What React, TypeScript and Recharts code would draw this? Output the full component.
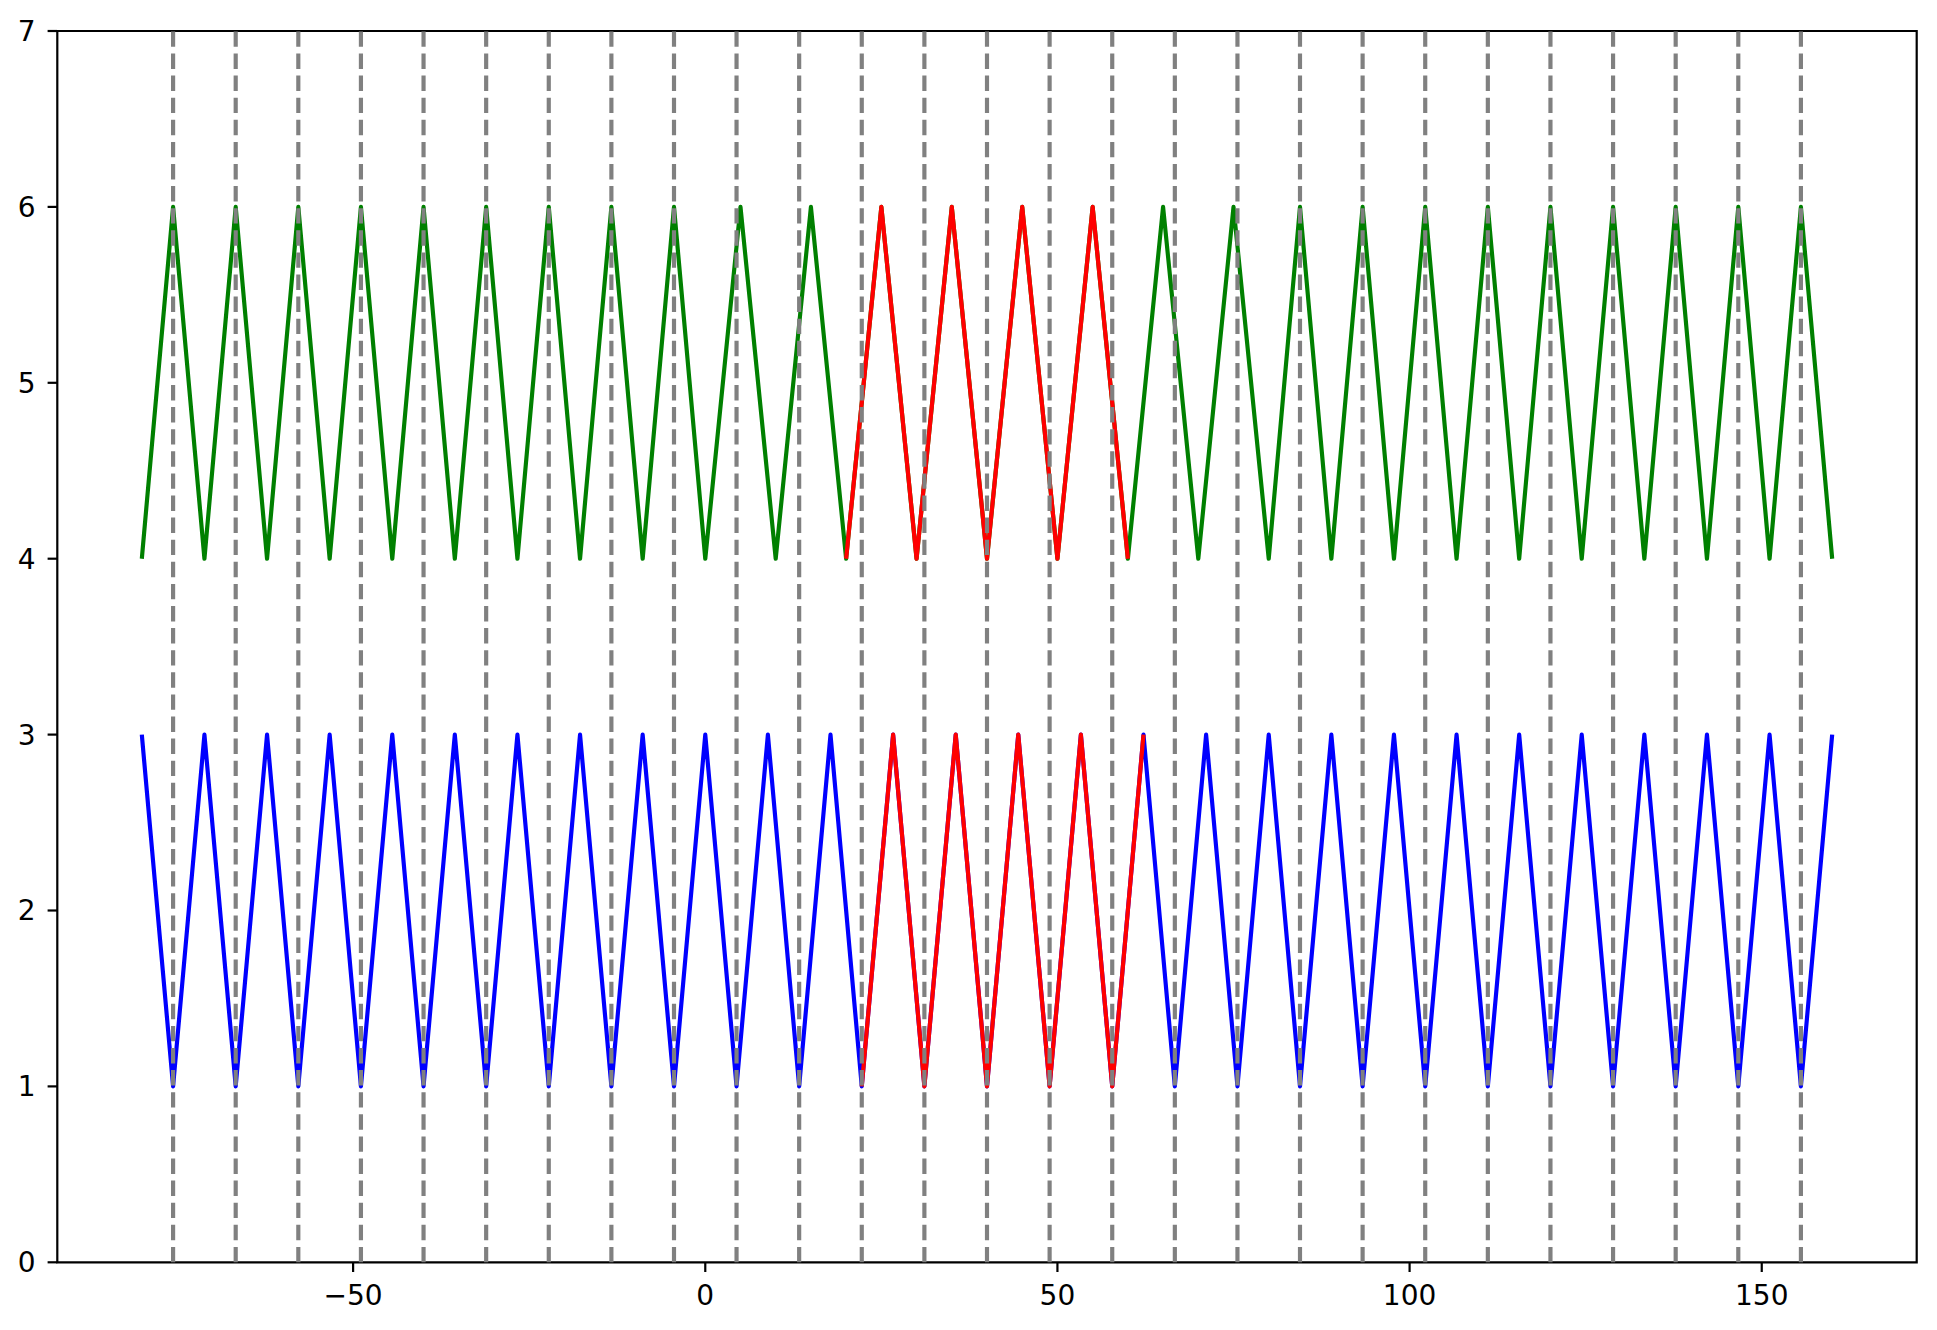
import React from "react";
import {
  Line,
  LineChart,
  ReferenceArea,
  ReferenceLine,
  XAxis,
  YAxis,
} from "recharts";

// blue zigzag (lower band)
const blueX = [
  -80, -75.56, -71.11, -66.67, -62.22, -57.78, -53.33, -48.89, -44.44, -40,
  -35.56, -31.11, -26.67, -22.22, -17.78, -13.33, -8.89, -4.44, 0, 4.44, 8.89,
  13.33, 17.78, 22.22, 26.67, 31.11, 35.56, 40, 44.44, 48.89, 53.33, 57.78,
  62.22, 66.67, 71.11, 75.56, 80, 84.44, 88.89, 93.33, 97.78, 102.22, 106.67,
  111.11, 115.56, 120, 124.44, 128.89, 133.33, 137.78, 142.22, 146.67, 151.11,
  155.56, 160,
];
const blueY = [
  3, 1, 3, 1, 3, 1, 3, 1, 3, 1, 3, 1, 3, 1, 3, 1, 3, 1, 3, 1, 3, 1, 3, 1, 3, 1,
  3, 1, 3, 1, 3, 1, 3, 1, 3, 1, 3, 1, 3, 1, 3, 1, 3, 1, 3, 1, 3, 1, 3, 1, 3, 1,
  3, 1, 3,
];

// green zigzag (upper band), tighter spacing between 0 and 80
const greenX = [
  -80, -75.56, -71.11, -66.67, -62.22, -57.78, -53.33, -48.89, -44.44, -40,
  -35.56, -31.11, -26.67, -22.22, -17.78, -13.33, -8.89, -4.44, 0, 5, 10, 15,
  20, 25, 30, 35, 40, 45, 50, 55, 60, 65, 70, 75, 80, 84.44, 88.89, 93.33,
  97.78, 102.22, 106.67, 111.11, 115.56, 120, 124.44, 128.89, 133.33, 137.78,
  142.22, 146.67, 151.11, 155.56, 160,
];
const greenY = [
  4, 6, 4, 6, 4, 6, 4, 6, 4, 6, 4, 6, 4, 6, 4, 6, 4, 6, 4, 6, 4, 6, 4, 6, 4, 6,
  4, 6, 4, 6, 4, 6, 4, 6, 4, 6, 4, 6, 4, 6, 4, 6, 4, 6, 4, 6, 4, 6, 4, 6, 4, 6,
  4,
];

// red highlighted parts
const redUpperX = [20, 25, 30, 35, 40, 45, 50, 55, 60];
const redUpperY = [4, 6, 4, 6, 4, 6, 4, 6, 4];
const redLowerX = [22.22, 26.67, 31.11, 35.56, 40, 44.44, 48.89, 53.33, 57.78, 62.22];
const redLowerY = [1, 3, 1, 3, 1, 3, 1, 3, 1, 3];

// dashed markers
const markerX = [
  -75.56, -66.67, -57.78, -48.89, -40, -31.11, -22.22, -13.33, -4.44, 4.44,
  13.33, 22.22, 31.11, 40, 48.89, 57.78, 66.67, 75.56, 84.44, 93.33, 102.22,
  111.11, 120, 128.89, 137.78, 146.67, 155.56,
];

const xTicks = [-50, 0, 50, 100, 150];
const yTicks = [0, 1, 2, 3, 4, 5, 6, 7];

const zip = (xs: number[], ys: number[]) => xs.map((x, i) => ({ x, y: ys[i] }));

const blueData = zip(blueX, blueY);
const greenData = zip(greenX, greenY);
const redUpper = zip(redUpperX, redUpperY);
const redLower = zip(redLowerX, redLowerY);

const font = "DejaVu Sans, sans-serif";
const tickStyle = { fill: "#000", fontSize: 28, fontFamily: font };
const tickLine = { stroke: "#000", strokeWidth: 2.2 };

const fmtX = (v: number) => (v < 0 ? "\u2212" + Math.abs(v) : String(v));

const LW = 4.17;

export default function App() {
  return (
    <div style={{ width: 1921, height: 1314 }}>
      <LineChart
        width={1921}
        height={1314}
        margin={{ top: 23, right: 12.3, left: 0, bottom: 0 }}
      >
        <XAxis
          type="number"
          dataKey="x"
          domain={[-92, 172]}
          allowDataOverflow
          ticks={xTicks}
          tickFormatter={fmtX}
          height={59.7}
          tickSize={9.7}
          tickMargin={13}
          axisLine={false}
          tickLine={tickLine}
          tick={tickStyle}
        />
        <YAxis
          type="number"
          dataKey="y"
          domain={[0, 7]}
          ticks={yTicks}
          width={49.3}
          tickSize={9.7}
          tickMargin={12}
          axisLine={false}
          tickLine={tickLine}
          tick={tickStyle}
        />
        <Line
          data={greenData}
          dataKey="y"
          type="linear"
          stroke="#008000"
          strokeWidth={LW}
          strokeLinejoin="round"
          dot={false}
          activeDot={false}
          isAnimationActive={false}
        />
        <Line
          data={blueData}
          dataKey="y"
          type="linear"
          stroke="#0000ff"
          strokeWidth={LW}
          strokeLinejoin="round"
          dot={false}
          activeDot={false}
          isAnimationActive={false}
        />
        <Line
          data={redUpper}
          dataKey="y"
          type="linear"
          stroke="#ff0000"
          strokeWidth={LW}
          strokeLinejoin="round"
          dot={false}
          activeDot={false}
          isAnimationActive={false}
        />
        <Line
          data={redLower}
          dataKey="y"
          type="linear"
          stroke="#ff0000"
          strokeWidth={LW}
          strokeLinejoin="round"
          dot={false}
          activeDot={false}
          isAnimationActive={false}
        />
        {markerX.map((mx) => (
          <ReferenceLine
            key={mx}
            x={mx}
            stroke="#808080"
            strokeWidth={LW}
            strokeDasharray="15.4 6.7"
          />
        ))}
        <ReferenceArea
          x1={-92}
          x2={172}
          y1={0}
          y2={7}
          fill="none"
          stroke="#000"
          strokeWidth={2.2}
          ifOverflow="visible"
        />
      </LineChart>
    </div>
  );
}
